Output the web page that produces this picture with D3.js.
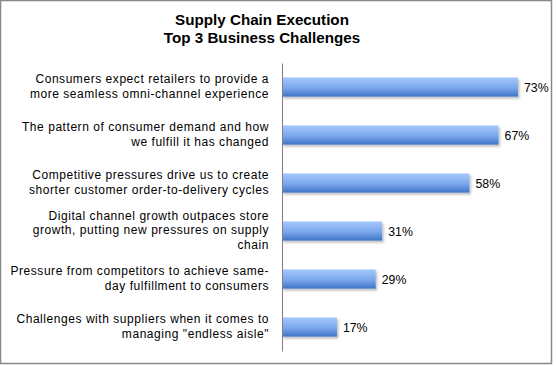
<!DOCTYPE html>
<html><head><meta charset="utf-8">
<script src="https://cdn.jsdelivr.net/npm/d3@7"></script>
<style>body{margin:0;background:#fff}svg{display:block}</style>
</head><body>
<script>
const titleLines = ["Supply Chain Execution", "Top 3 Business Challenges"];
const categories = [
  ["Consumers expect retailers to provide a", "more seamless omni-channel experience"],
  ["The pattern of consumer demand and how", "we fulfill it has changed"],
  ["Competitive pressures drive us to create", "shorter customer order-to-delivery cycles"],
  ["Digital channel growth outpaces store", "growth, putting new pressures on supply", "chain"],
  ["Pressure from competitors to achieve same-", "day fulfillment to consumers"],
  ["Challenges with suppliers when it comes to", "managing \"endless aisle\""]
];
const values = [0.73, 0.67, 0.58, 0.31, 0.29, 0.17];
const valueLabels = ["73%", "67%", "58%", "31%", "29%", "17%"];

const W = 556, H = 366;
const svg = d3.select("body").append("svg").attr("width", W).attr("height", H);
const defs = svg.append("defs");
const g = defs.append("linearGradient").attr("id","barGrad").attr("x1",0).attr("y1",0).attr("x2",0).attr("y2",1);
g.append("stop").attr("offset","0%").attr("stop-color","#a6c9fa");
g.append("stop").attr("offset","55%").attr("stop-color","#7aa7ea");
g.append("stop").attr("offset","100%").attr("stop-color","#3e74c6");
const f = defs.append("filter").attr("id","shadow").attr("x","-10%").attr("y","-30%").attr("width","130%").attr("height","190%");
f.append("feDropShadow").attr("dx",1.5).attr("dy",2).attr("stdDeviation",1.2).attr("flood-color","#000").attr("flood-opacity",0.25);

svg.append("rect").attr("x",0.5).attr("y",0.5).attr("width",551).attr("height",363)
  .attr("fill","#fff").attr("stroke","#888").attr("stroke-width",1.5);

const font = "'Liberation Sans', Arial, sans-serif";
svg.append("text").attr("text-anchor","middle")
  .attr("font-family",font).attr("font-weight","bold").attr("font-size",15.2).attr("fill","#000")
  .selectAll("tspan").data(titleLines).join("tspan")
  .attr("x",262).attr("y",(d,i)=>25+i*17.5).text(d=>d);

const x = d3.scaleLinear().domain([0,0.8]).range([282,540.6]);
const y = d3.scaleBand().domain(d3.range(categories.length)).range([63,351]).paddingInner(0.6).paddingOuter(0.3);

svg.append("g").selectAll("rect").data(values).join("rect")
  .attr("x",x(0)).attr("y",(d,i)=>y(i)).attr("width",d=>x(d)-x(0)).attr("height",y.bandwidth())
  .attr("fill","url(#barGrad)").attr("filter","url(#shadow)");

const axis = d3.axisLeft(y).tickSize(0).tickFormat("");
const ax = svg.append("g").attr("transform",`translate(${x(0)},0)`).call(axis);
ax.select(".domain").attr("stroke","#808080").attr("stroke-width",1);

const lh = 14.7;
svg.append("g").selectAll("text").data(categories).join("text")
  .attr("font-family",font).attr("font-size",12).attr("letter-spacing",0.55).attr("fill","#000").attr("text-anchor","end")
  .each(function(lines,i){
    const cy = y(i)+y.bandwidth()/2;
    const n = lines.length;
    const y0 = cy - (n-1)*lh/2 + 3.3;
    d3.select(this).selectAll("tspan").data(lines).join("tspan")
      .attr("x",269).attr("y",(d,k)=>y0+k*lh).text(d=>d);
  });

svg.append("g").selectAll("text").data(values).join("text")
  .attr("font-family",font).attr("font-size",12.3).attr("fill","#000")
  .attr("x",d=>x(d)+6).attr("y",(d,i)=>y(i)+y.bandwidth()/2+4.5).text((d,i)=>valueLabels[i]);
</script>
</body></html>
